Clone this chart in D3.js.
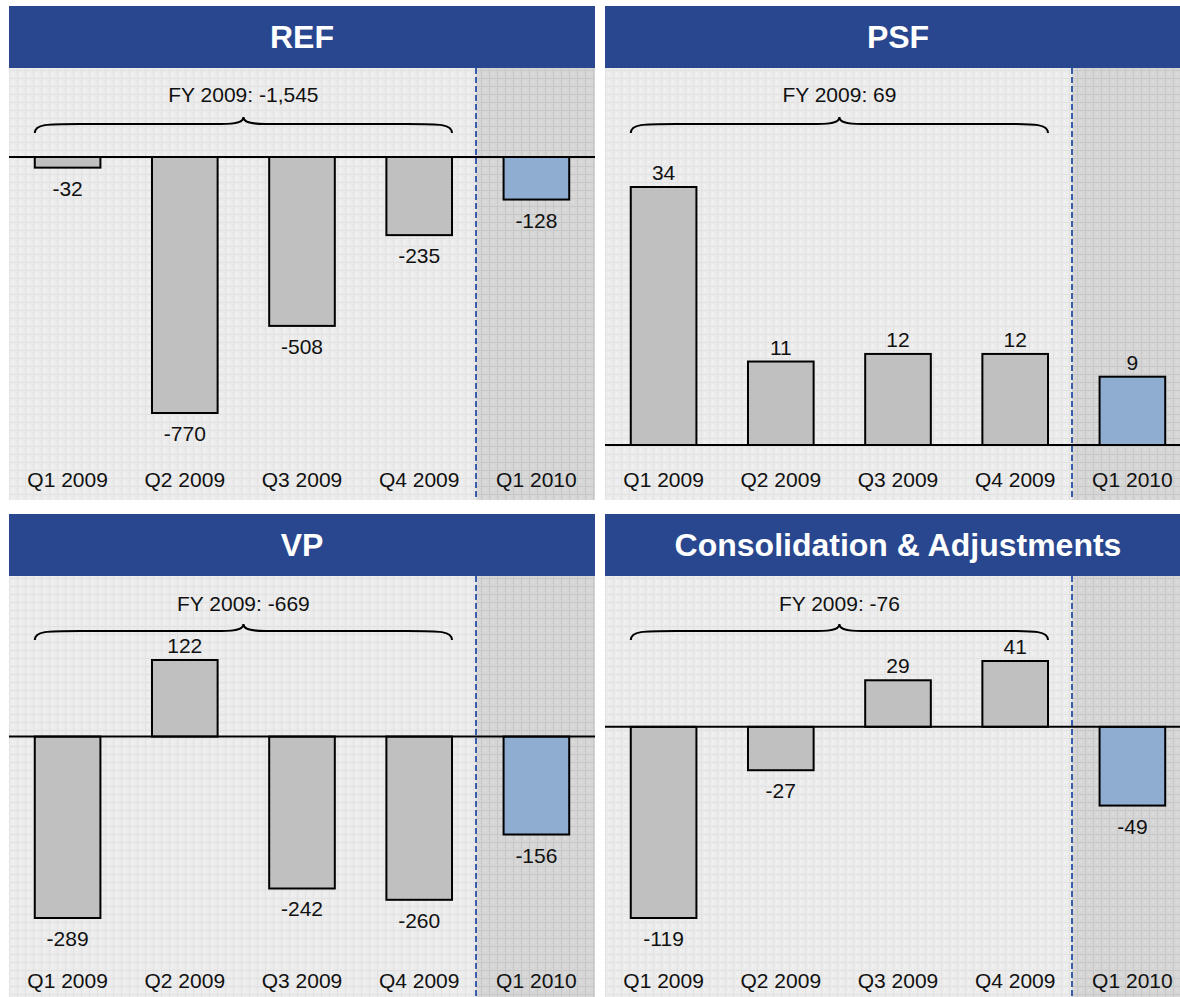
<!DOCTYPE html>
<html>
<head>
<meta charset="utf-8">
<script src="https://cdn.jsdelivr.net/npm/d3@7"></script>
<style>
  body { margin: 0; background: #fff; }
  text { font-family: Arial, "Liberation Sans", sans-serif; }
</style>
</head>
<body>
<div id="chart"></div>
<script>
// Datos
const categories = ["Q1 2009", "Q2 2009", "Q3 2009", "Q4 2009", "Q1 2010"];
const panelTitles = ["REF", "PSF", "VP", "Consolidation & Adjustments"];
const refValues = [-32, -770, -508, -235, -128];
const psfValues = [34, 11, 12, 12, 9];
const vpValues = [-289, 122, -242, -260, -156];
const caValues = [-119, -27, 29, 41, -49];
const fyTotals = [-1545, 69, -669, -76];
const fyLabel = "FY 2009: ";

// Constantes de layout
const width = 1180;
const height = 997;
const panelWidth = 586;
const headerHeight = 62;
const bodyHeight = 432;

// cada panel: posición y rango vertical de las barras (relativo al panel)
const panels = [
  { title: panelTitles[0], values: refValues, total: fyTotals[0], x: 9, y: 6, yRange: [407, 151], catY: 481, fyY: 96, braceY: 118 },
  { title: panelTitles[1], values: psfValues, total: fyTotals[1], x: 605, y: 6, yRange: [439, 181], catY: 481, fyY: 96, braceY: 118 },
  { title: panelTitles[2], values: vpValues, total: fyTotals[2], x: 9, y: 514, yRange: [404, 146], catY: 474, fyY: 97, braceY: 117 },
  { title: panelTitles[3], values: caValues, total: fyTotals[3], x: 605, y: 514, yRange: [404, 147], catY: 474, fyY: 97, braceY: 117 },
];

const svg = d3
  .select("div#chart")
  .append("svg")
  .attr("width", width)
  .attr("height", height);

// Patrones de fondo (trama tipo Excel)
const defs = svg.append("defs");
const makePattern = (id, base, line, dot) => {
  const p = defs
    .append("pattern")
    .attr("id", id)
    .attr("width", 8)
    .attr("height", 8)
    .attr("patternUnits", "userSpaceOnUse");
  p.append("rect").attr("width", 8).attr("height", 8).attr("fill", base);
  p.append("rect").attr("width", 8).attr("height", 1).attr("fill", line);
  p.append("rect").attr("width", 1).attr("height", 8).attr("fill", line);
  p.append("rect").attr("x", 3).attr("y", 3).attr("width", 2).attr("height", 2).attr("fill", dot);
};
makePattern("bgLight", "#ececec", "#e2e2e2", "#f2f2f2");
makePattern("bgDark", "#d6d6d6", "#c8c8c8", "#dddddd");

const x = d3
  .scaleBand()
  .domain(categories)
  .range([0, panelWidth])
  .paddingInner(0.44)
  .paddingOuter(0.22);

// formato con guion normal en lugar del signo menos
const fmt = (v) => d3.format(",")(v).replace("\u2212", "-");

// Llave sobre las barras de 2009
const bracePath = (x0, x1, yFlat) => {
  const xm = (x0 + x1) / 2;
  const y0 = yFlat + 9;
  return `M${x0},${y0} C${x0},${yFlat} ${x0 + 12},${yFlat} ${x0 + 45},${yFlat}
    L${xm - 22},${yFlat} C${xm - 6},${yFlat} ${xm},${yFlat - 2} ${xm},${yFlat - 7}
    C${xm},${yFlat - 2} ${xm + 6},${yFlat} ${xm + 22},${yFlat}
    L${x1 - 45},${yFlat} C${x1 - 12},${yFlat} ${x1},${yFlat} ${x1},${y0}`;
};

const paintPanel = (p) => {
  const g = svg.append("g").attr("transform", `translate(${p.x}, ${p.y})`);

  const lo = Math.min(0, d3.min(p.values));
  const hi = Math.max(0, d3.max(p.values));
  const y = d3.scaleLinear().domain([lo, hi]).range(p.yRange);

  // Cabecera
  g.append("rect")
    .attr("width", panelWidth)
    .attr("height", headerHeight)
    .attr("fill", "#29478f");
  g.append("text")
    .attr("x", panelWidth / 2)
    .attr("y", headerHeight / 2 + 11)
    .attr("text-anchor", "middle")
    .attr("fill", "#fff")
    .attr("font-weight", "bold")
    .attr("font-size", 32)
    .text(p.title);

  // Fondo
  const divider = Math.round(x(categories[4]) - (x.step() - x.bandwidth()) / 2) - 2;
  g.append("rect")
    .attr("y", headerHeight)
    .attr("width", panelWidth)
    .attr("height", bodyHeight)
    .attr("fill", "url(#bgLight)");
  g.append("rect")
    .attr("x", divider)
    .attr("y", headerHeight)
    .attr("width", panelWidth - divider)
    .attr("height", bodyHeight)
    .attr("fill", "url(#bgDark)");
  g.append("line")
    .attr("x1", divider)
    .attr("x2", divider)
    .attr("y1", headerHeight)
    .attr("y2", headerHeight + bodyHeight)
    .attr("stroke", "#3a5ba9")
    .attr("stroke-width", 2)
    .attr("stroke-dasharray", "6,3");

  // Barras
  g.selectAll("rect.bar")
    .data(p.values)
    .join("rect")
    .attr("class", "bar")
    .attr("x", (d, i) => x(categories[i]))
    .attr("width", x.bandwidth())
    .attr("y", (d) => y(Math.max(0, d)))
    .attr("height", (d) => Math.abs(y(d) - y(0)))
    .attr("fill", (d, i) => (i === 4 ? "#8eadd1" : "#c0c0c0"))
    .attr("stroke", "#000")
    .attr("stroke-width", 2);

  // Línea de cero
  g.append("line")
    .attr("x1", 0)
    .attr("x2", panelWidth)
    .attr("y1", y(0))
    .attr("y2", y(0))
    .attr("stroke", "#000")
    .attr("stroke-width", 2);

  // Etiquetas de valores
  g.selectAll("text.val")
    .data(p.values)
    .join("text")
    .attr("class", "val")
    .attr("x", (d, i) => x(categories[i]) + x.bandwidth() / 2)
    .attr("y", (d) => (d >= 0 ? y(d) - 7 : y(d) + 28))
    .attr("text-anchor", "middle")
    .attr("font-size", 21)
    .attr("fill", "#111")
    .text((d) => fmt(d));

  // Etiquetas de categorías
  g.selectAll("text.cat")
    .data(categories)
    .join("text")
    .attr("class", "cat")
    .attr("x", (d) => x(d) + x.bandwidth() / 2)
    .attr("y", p.catY)
    .attr("text-anchor", "middle")
    .attr("font-size", 21)
    .attr("fill", "#111")
    .text((d) => d);

  // Llave y total anual
  const bx0 = x(categories[0]);
  const bx1 = x(categories[3]) + x.bandwidth();
  g.append("path")
    .attr("d", bracePath(bx0, bx1, p.braceY))
    .attr("fill", "none")
    .attr("stroke", "#000")
    .attr("stroke-width", 2);
  g.append("text")
    .attr("x", (bx0 + bx1) / 2)
    .attr("y", p.fyY)
    .attr("text-anchor", "middle")
    .attr("font-size", 21)
    .attr("fill", "#111")
    .text(fyLabel + fmt(p.total));
};

panels.forEach(paintPanel);
</script>
</body>
</html>
